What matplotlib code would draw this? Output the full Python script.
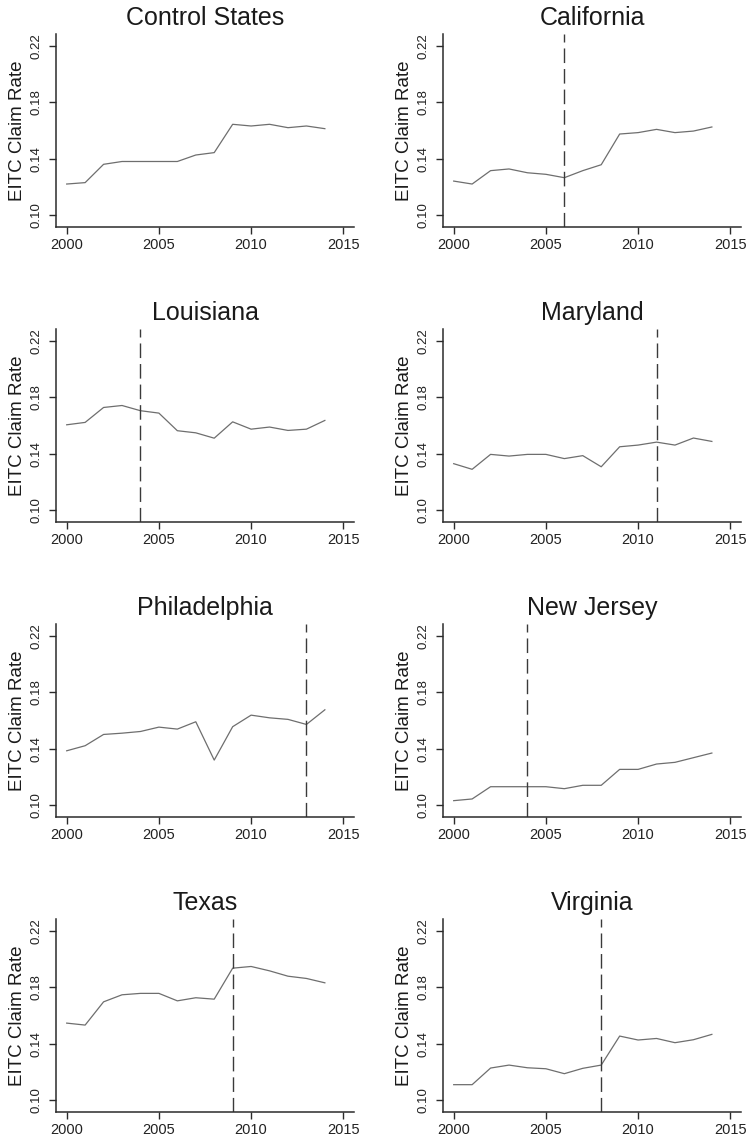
import matplotlib
matplotlib.use("Agg")
import matplotlib.pyplot as plt

plt.rcParams["font.family"] = ["Liberation Sans", "DejaVu Sans"]

years = list(range(2000, 2015))

titles = ["Control States", "California", "Louisiana", "Maryland",
          "Philadelphia", "New Jersey", "Texas", "Virginia"]

control_states = [0.122, 0.123, 0.136, 0.138, 0.138, 0.138, 0.138, 0.1426,
                  0.1443, 0.1644, 0.1632, 0.1644, 0.162, 0.1632, 0.1613]
california = [0.1241, 0.122, 0.1315, 0.1327, 0.130, 0.1289, 0.1265, 0.1315,
              0.1357, 0.1575, 0.1585, 0.1608, 0.1585, 0.1596, 0.1625]
louisiana = [0.1605, 0.1622, 0.1728, 0.1742, 0.1705, 0.1688, 0.1563, 0.1548,
             0.151, 0.1626, 0.1574, 0.1589, 0.1565, 0.1574, 0.1636]
maryland = [0.1329, 0.1289, 0.1395, 0.1383, 0.1395, 0.1395, 0.1365, 0.1386,
            0.1307, 0.1449, 0.1461, 0.1482, 0.1461, 0.1511, 0.1487]
philadelphia = [0.1385, 0.1421, 0.1501, 0.151, 0.1522, 0.1553, 0.1539, 0.1591,
                0.1319, 0.1556, 0.1638, 0.1619, 0.1608, 0.1572, 0.1676]
new_jersey = [0.1031, 0.1043, 0.113, 0.113, 0.113, 0.113, 0.1116, 0.114,
              0.114, 0.1253, 0.1253, 0.1291, 0.1303, 0.1336, 0.1369]
texas = [0.1546, 0.1532, 0.1697, 0.1747, 0.1757, 0.1757, 0.1704, 0.1726,
         0.1716, 0.1936, 0.1948, 0.1917, 0.1879, 0.1863, 0.1832]
virginia = [0.1109, 0.1109, 0.1227, 0.1248, 0.1229, 0.1222, 0.1187, 0.1225,
            0.1248, 0.1454, 0.1426, 0.1437, 0.1407, 0.1428, 0.1466]

series = [control_states, california, louisiana, maryland,
          philadelphia, new_jersey, texas, virginia]

# year the policy took effect (None for the pooled control group)
policy_years = [None, 2006, 2004, 2011, 2013, 2004, 2009, 2008]

x_ticks = [2000, 2005, 2010, 2015]
y_ticks = [0.10, 0.14, 0.18, 0.22]
y_tick_labels = ["0.10", "0.14", "0.18", "0.22"]

W, H = 747, 1146
fig = plt.figure(figsize=(W / 100, H / 100), dpi=100)

col_left = [56, 443]
row_bottom = [227, 522, 817, 1112]
ax_w, ax_h = 298, 193

axis_col = "#2b2b2b"
line_col = "#6e6e6e"

for i, (title, vals, py) in enumerate(zip(titles, series, policy_years)):
    r, c = divmod(i, 2)
    x0 = col_left[c] / W
    y0 = 1 - row_bottom[r] / H
    ax = fig.add_axes([x0, y0, ax_w / W, ax_h / H])

    ax.plot(years, vals, color=line_col, lw=0.9, solid_joinstyle="round")
    if py is not None:
        ax.axvline(py, color="#3a3a3a", lw=1.0, dashes=(10.5, 4.3))

    ax.set_xlim(1999.42, 2015.58)
    ax.set_ylim(0.0915, 0.2285)
    ax.set_xticks(x_ticks)
    ax.set_yticks(y_ticks)
    ax.set_yticklabels(y_tick_labels, rotation=90, va="center")

    for side in ("top", "right"):
        ax.spines[side].set_visible(False)
    for side in ("left", "bottom"):
        ax.spines[side].set_color(axis_col)
        ax.spines[side].set_linewidth(1.1)

    ax.tick_params(axis="both", direction="out", length=5, width=1.0,
                   color=axis_col, labelcolor="#222222")
    ax.tick_params(axis="x", labelsize=10.5, pad=3)
    ax.tick_params(axis="y", labelsize=9.5, pad=5)

    ax.set_title(title, fontsize=18, color="#1a1a1a", pad=6.5)
    ax.set_ylabel("EITC Claim Rate", fontsize=13.5, color="#1a1a1a")
    ax.yaxis.set_label_coords(-0.10, 0.5)

fig.savefig("out.png", dpi=100, facecolor="white")
